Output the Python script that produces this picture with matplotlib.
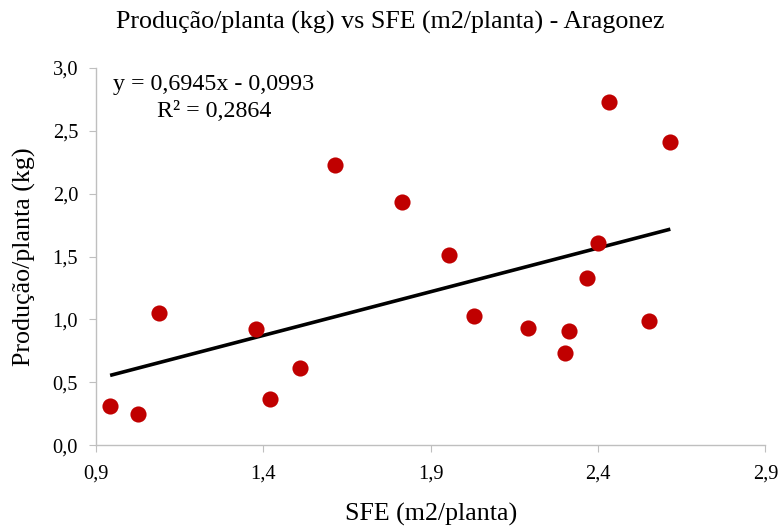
import matplotlib
matplotlib.use("Agg")
import matplotlib.pyplot as plt
import numpy as np
from matplotlib.ticker import FuncFormatter

plt.rcParams['font.family'] = ['Liberation Serif', 'DejaVu Serif']

# SFE (m2/planta) and production per plant (kg)
sfe = [0.942, 1.026, 1.088, 1.378, 1.42, 1.51, 1.615, 1.815, 1.955,
       2.03, 2.19, 2.30, 2.314, 2.368, 2.40, 2.434, 2.553, 2.616]
producao = [0.31, 0.25, 1.05, 0.92, 0.37, 0.61, 2.23, 1.93, 1.51,
            1.03, 0.93, 0.73, 0.91, 1.33, 1.61, 2.73, 0.99, 2.41]

# Linear trend coefficients
slope = 0.6945
intercept = -0.0993
r2 = 0.2864

x_ticks = [0.9, 1.4, 1.9, 2.4, 2.9]
y_ticks = [0.0, 0.5, 1.0, 1.5, 2.0, 2.5, 3.0]

fig = plt.figure(figsize=(7.81, 5.30), dpi=100)
ax = fig.add_axes([0.123, 0.160, 0.857, 0.712])

ax.scatter(sfe, producao, s=135, color='#C00000', zorder=3, linewidths=0)

xl = np.array([min(sfe), max(sfe)])
ax.plot(xl, slope * xl + intercept, color='black', lw=2.6, zorder=2,
        solid_capstyle='butt')

ax.set_xlim(0.9, 2.9)
ax.set_ylim(0.0, 3.0)
ax.set_xticks(x_ticks)
ax.set_yticks(y_ticks)
comma = FuncFormatter(lambda v, p: f"{v:.1f}".replace('.', ','))
ax.xaxis.set_major_formatter(comma)
ax.yaxis.set_major_formatter(comma)

for s in ['top', 'right']:
    ax.spines[s].set_visible(False)
for s in ['left', 'bottom']:
    ax.spines[s].set_color('#BFBFBF')
    ax.spines[s].set_linewidth(1.0)
ax.tick_params(axis='both', which='major', direction='out', length=5,
               color='#BFBFBF', labelsize=14.7, labelcolor='#000000')
ax.tick_params(axis='x', pad=9)
ax.tick_params(axis='y', pad=8)

ax.set_xlabel('SFE (m2/planta)', fontsize=18.7, labelpad=14)
ax.set_ylabel('Produção/planta (kg)', fontsize=18.7, labelpad=12)
fig.text(0.5, 0.958, 'Produção/planta (kg) vs SFE (m2/planta) - Aragonez',
         ha='center', va='center', fontsize=18.7)

eq = f"y = {slope:.4f}x - {abs(intercept):.4f}".replace('.', ',')
rr = f"R² = {r2:.4f}".replace('.', ',')
ax.text(1.252, 2.87, eq, ha='center', va='center', fontsize=17.3)
ax.text(1.252, 2.655, rr, ha='center', va='center', fontsize=17.3)

fig.savefig('out.png', dpi=100)
